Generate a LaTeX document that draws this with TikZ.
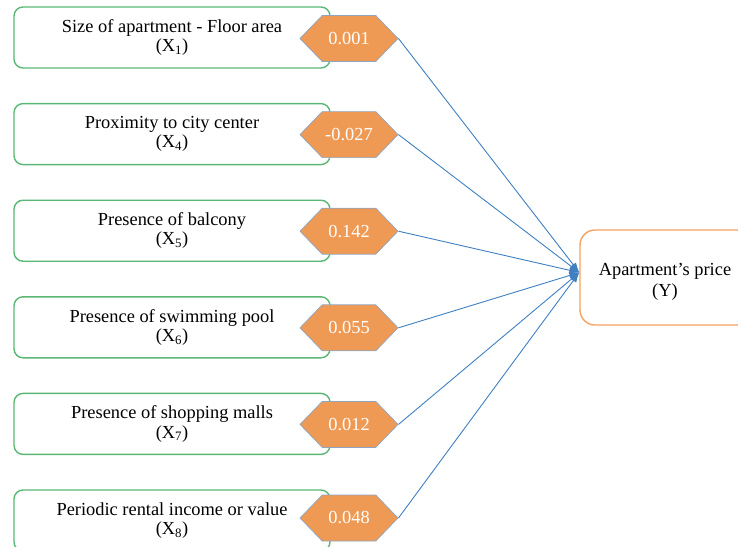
\documentclass[tikz,border=0pt]{standalone}
\usepackage{fontspec}
\setmainfont{Liberation Serif}
\usetikzlibrary{shapes.symbols,arrows.meta}
\definecolor{boxgreen}{HTML}{5BB774}
\definecolor{hexfill}{HTML}{EF9A54}
\definecolor{hexline}{HTML}{8EA6C4}
\definecolor{tgtorange}{HTML}{F5A25E}
\definecolor{linkblue}{HTML}{3F80C2}
\begin{document}
\begin{tikzpicture}[x=1pt,y=-1pt,
  factor/.style={draw=boxgreen,line width=1.4pt,rounded corners=9pt,minimum width=316pt,minimum height=61pt,align=center,font=\fontsize{18.4}{19.5}\selectfont,inner sep=0pt},
  coef/.style={shape=signal,signal to=west and east,signal pointer angle=92,fill=hexfill,draw=hexline,line width=0.7pt,minimum width=98pt,minimum height=46pt,inner sep=0pt,text=white,font=\fontsize{18.4}{18}\selectfont},
  target/.style={draw=tgtorange,line width=1.4pt,rounded corners=15pt,minimum width=172pt,minimum height=95pt,align=center,font=\fontsize{18.4}{21}\selectfont,inner sep=0pt},
  link/.style={draw=linkblue,line width=0.9pt,-{Latex[length=10pt,width=7pt]}}]
\useasboundingbox (0,0) rectangle (738,546);
\clip (0,0) rectangle (738,546);
\node[factor] (b1) at (172,37.5) {Size of apartment - Floor area\\(X\textsubscript{1})};
\node[factor] (b2) at (172,134.1) {Proximity to city center\\(X\textsubscript{4})};
\node[factor] (b3) at (172,230.7) {Presence of balcony\\(X\textsubscript{5})};
\node[factor] (b4) at (172,327.3) {Presence of swimming pool\\(X\textsubscript{6})};
\node[factor] (b5) at (172,423.9) {Presence of shopping malls\\(X\textsubscript{7})};
\node[factor] (b6) at (172,520.5) {Periodic rental income or value\\(X\textsubscript{8})};
\node[coef] (h1) at (349,38.5) {0.001};
\node[coef] (h2) at (349,134.6) {-0.027};
\node[coef] (h3) at (349,231.2) {0.142};
\node[coef] (h4) at (349,327.8) {0.055};
\node[coef] (h5) at (349,424.4) {0.012};
\node[coef] (h6) at (349,518) {0.048};
\node[target] (t) at (666,277.5) {};
\node[align=center,font=\fontsize{18.4}{21}\selectfont,inner sep=0pt] (tl) at (665,282) {Apartment’s price\\(Y)};
\coordinate (tip) at ([yshift=5pt]t.west);
\foreach \h in {h1,h2,h3,h4,h5,h6} \draw[link] (\h.east) -- (tip);
\end{tikzpicture}
\end{document}
